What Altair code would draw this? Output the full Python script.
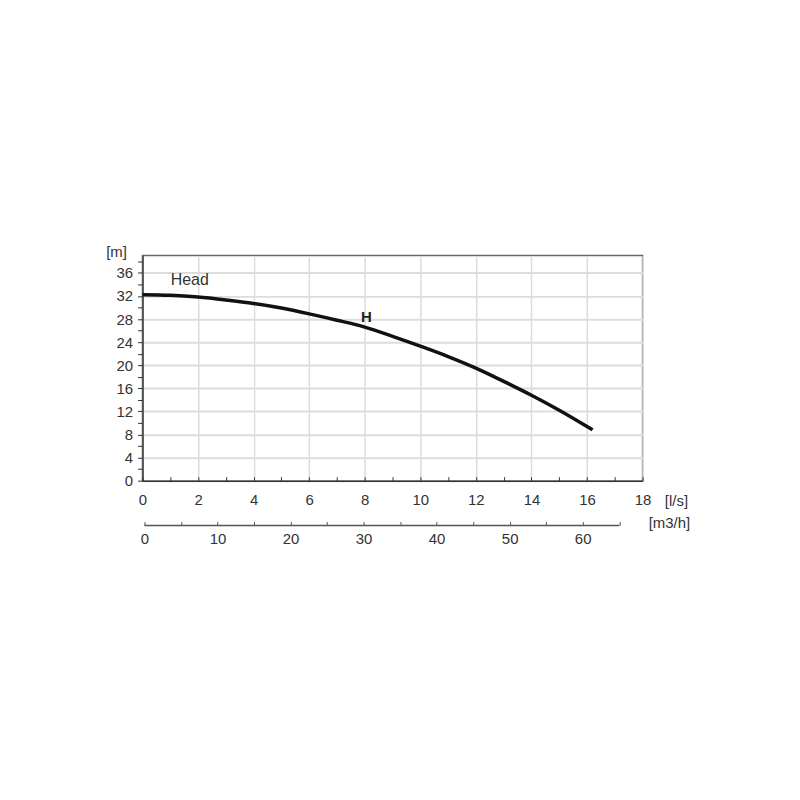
import altair as alt
import pandas as pd

# Pump curve: flow [l/s] vs head [m]
flow_ls = [0, 1, 2, 3, 4, 5, 6, 7, 8, 9, 10, 11, 12, 13, 14, 15, 16.2]
head_m = [32.2, 32.1, 31.8, 31.3, 30.7, 29.9, 28.9, 27.8, 26.6, 25.0, 23.3, 21.5, 19.5, 17.2, 14.8, 12.2, 8.8]

x_major = list(range(0, 19, 2))
x_minor = list(range(0, 19))
y_ticks = list(range(0, 39, 2))
m3h_ticks = list(range(0, 66, 5))
m3h_labels = list(range(0, 61, 10))
m3h_start = [0]
m3h_end = [65]

ann_x = [1.7, 8.06]
ann_y = [34.8, 28.4]
ann_text = ["Head", "H"]
ann_bold = [False, True]

W, H = 502, 226
FONT = "Liberation Sans"
FS = 15
xs = alt.Scale(domain=[0, 18], nice=False, zero=False)
ys = alt.Scale(domain=[0, 39], nice=False)
sec = alt.Scale(domain=[-0.27, 68.2], nice=False, zero=False)

y_axis = alt.Axis(
    values=y_ticks, labelExpr="datum.value % 4 == 0 ? datum.label : ''",
    labelOverlap=False,
    grid=True, gridColor="#dcdcdc", gridWidth=2,
    gridOpacity={"condition": {"test": "datum.value % 4 == 0", "value": 1}, "value": 0},
    tickSize=5, tickColor="#333", labelPadding=5,
    domainColor="#333", domainWidth=1.5, title=None, labelFlush=False)

curve_df = pd.DataFrame({"ls": flow_ls, "h": head_m})
ann_df = pd.DataFrame({"x": ann_x, "y": ann_y, "t": ann_text, "b": ann_bold})
sec_df = pd.DataFrame({"a": m3h_start, "b": m3h_end})

curve = alt.Chart(curve_df).mark_line(
    color="#111", strokeWidth=3.5, interpolate="monotone"
).encode(
    x=alt.X("ls:Q", scale=xs, axis=alt.Axis(
        values=x_major, grid=True, gridColor="#dcdcdc", gridWidth=1.5,
        ticks=False, labelPadding=12, domainColor="#333", domainWidth=1.5,
        title=None, labelFlush=False)),
    y=alt.Y("h:Q", scale=ys, axis=y_axis),
)

xminor = alt.Chart(curve_df).mark_point(opacity=0).encode(
    x=alt.X("ls:Q", scale=xs, axis=alt.Axis(
        orient="top", offset=-H, values=x_minor, labels=False, domain=False,
        grid=False, tickSize=4, tickColor="#333", title=None)),
)

ann_base = alt.Chart(ann_df).encode(
    x=alt.X("x:Q", scale=xs, axis=None),
    y=alt.Y("y:Q", scale=ys, axis=y_axis, title=None),
    text="t:N",
)
ann_normal = ann_base.transform_filter("!datum.b").mark_text(
    fontSize=16, font=FONT, color="#333")
ann_bold_l = ann_base.transform_filter("datum.b").mark_text(
    fontSize=15, font=FONT, color="#222", fontWeight="bold")

main = alt.layer(curve, xminor, ann_normal, ann_bold_l).resolve_axis(x="independent")

sec_rule = alt.Chart(sec_df).mark_rule(color="#555", strokeWidth=1.5).encode(
    x=alt.X("a:Q", scale=sec, axis=alt.Axis(
        orient="top", offset=-(H + 45), values=m3h_ticks, labels=False,
        domain=False, grid=False, tickSize=4, tickColor="#555", title=None)),
    x2="b:Q",
    y=alt.value(H + 45),
)

sec_lab = alt.Chart(sec_df).mark_point(opacity=0).encode(
    x=alt.X("a:Q", scale=sec, axis=alt.Axis(
        orient="bottom", offset=45, values=m3h_labels, ticks=False,
        domain=False, grid=False, labelPadding=6, title=None, labelFlush=False)),
)

secondary = alt.layer(sec_rule, sec_lab).resolve_axis(x="independent")

u_m = alt.Chart(sec_df).mark_text(text="[m]", fontSize=FS, font=FONT, color="#333").encode(
    x=alt.value(-26), y=alt.value(-4))
u_ls = alt.Chart(sec_df).mark_text(text="[l/s]", fontSize=FS, font=FONT, color="#333").encode(
    x=alt.value(536), y=alt.value(246.5))
u_m3h = alt.Chart(sec_df).mark_text(text="[m3/h]", fontSize=FS, font=FONT, color="#333").encode(
    x=alt.value(529), y=alt.value(269))

chart = alt.layer(main, secondary, u_m, u_ls, u_m3h).resolve_scale(
    x="independent"
).properties(
    width=W, height=H, autosize="none",
    padding={"left": 135, "top": 247, "right": 150, "bottom": 300},
    background="white",
).configure_view(
    stroke="#666", strokeWidth=1.5
).configure_axis(
    labelFont=FONT, labelFontSize=FS, labelColor="#333"
)

chart.save("out.html", embed_options={"renderer": "svg", "actions": False})
